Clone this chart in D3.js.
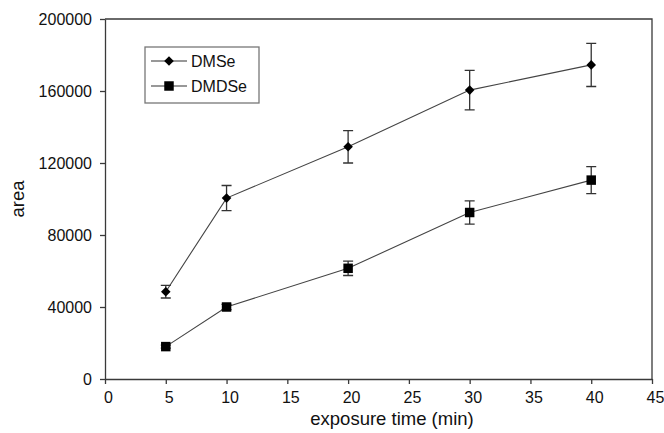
<!DOCTYPE html>
<html>
<head>
<meta charset="utf-8">
<script src="https://cdn.jsdelivr.net/npm/d3@7"></script>
<style>
  html, body { margin: 0; padding: 0; background: #fff; }
  svg { display: block; font-family: "Liberation Sans", Arial, sans-serif; }
</style>
</head>
<body>
<svg id="chart" width="664" height="433"></svg>
<script>
// Exposure times (min)
const times = [5, 10, 20, 30, 40];
// Peak areas and standard deviations for each compound
const dmseArea = [48500, 100500, 129000, 160500, 174500];
const dmseErr  = [3500, 7000, 9000, 11000, 12000];
const dmdseArea = [18000, 40000, 61500, 92500, 110500];
const dmdseErr  = [800, 1500, 4000, 6500, 7500];
// Tick values
const xTicks = [0, 5, 10, 15, 20, 25, 30, 35, 40, 45];
const yTicks = [0, 40000, 80000, 120000, 160000, 200000];

const series = [
  { name: "DMSe", area: dmseArea, err: dmseErr, marker: "diamond" },
  { name: "DMDSe", area: dmdseArea, err: dmdseErr, marker: "square" }
];

const svg = d3.select("#chart");
const plotL = 105, plotR = 652, plotT = 19, plotB = 379;

const x = d3.scaleLinear().domain([0, 45]).range([plotL, plotR]);
const y = d3.scaleLinear().domain([0, 200000]).range([plotB, plotT]);

const axisColor = "#3a3a3a";

// Frame (top and right sides)
svg.append("path")
  .attr("d", `M${plotL},${plotT}H${plotR}V${plotB}`)
  .attr("fill", "none").attr("stroke", axisColor).attr("stroke-width", 1.3);

// X axis
const gx = svg.append("g").attr("transform", `translate(0,${plotB})`)
  .call(d3.axisBottom(x).tickValues(xTicks).tickSize(5).tickPadding(8).tickSizeOuter(0));
gx.selectAll("path, line").attr("stroke", axisColor).attr("stroke-width", 1.3);
gx.selectAll("text").attr("font-size", 16).attr("fill", "#111").attr("dx", 3)
  .attr("font-family", "Liberation Sans, Arial, sans-serif");

// Y axis
const gy = svg.append("g").attr("transform", `translate(${plotL},0)`)
  .call(d3.axisLeft(y).tickValues(yTicks).tickFormat(d3.format("d")).tickSize(5).tickPadding(8).tickSizeOuter(0));
gy.selectAll("path, line").attr("stroke", axisColor).attr("stroke-width", 1.3);
gy.selectAll("text").attr("font-size", 16).attr("fill", "#111")
  .attr("font-family", "Liberation Sans, Arial, sans-serif");

// Axis titles
svg.append("text").attr("x", 392).attr("y", 425)
  .attr("text-anchor", "middle").attr("font-size", 18.5).attr("fill", "#111")
  .text("exposure time (min)");
svg.append("text")
  .attr("transform", `translate(24,${(plotT + plotB) / 2}) rotate(-90)`)
  .attr("text-anchor", "middle").attr("font-size", 18.5).attr("fill", "#111")
  .text("area");

// Markers: a rotated square (rhombus) and a filled square
const diamond = d3.symbol().type(d3.symbolSquare).size(46);
const square = d3.symbol().type(d3.symbolSquare).size(90);

function drawMarker(g, kind, cx, cy) {
  g.append("path")
    .attr("d", kind === "diamond" ? diamond() : square())
    .attr("transform", kind === "diamond"
      ? `translate(${cx},${cy}) rotate(45)`
      : `translate(${cx},${cy})`)
    .attr("fill", "#000");
}

const line = d3.line().x((d, i) => x(times[i])).y(d => y(d));

series.forEach(s => {
  const g = svg.append("g");
  g.append("path").datum(s.area)
    .attr("d", line).attr("fill", "none")
    .attr("stroke", "#444").attr("stroke-width", 1.1);

  // Error bars with caps
  s.area.forEach((v, i) => {
    const cx = x(times[i]);
    const yHi = y(v + s.err[i]), yLo = y(v - s.err[i]);
    g.append("path")
      .attr("d", `M${cx},${yHi}V${yLo}M${cx - 5},${yHi}H${cx + 5}M${cx - 5},${yLo}H${cx + 5}`)
      .attr("fill", "none").attr("stroke", "#333").attr("stroke-width", 1.3);
  });

  s.area.forEach((v, i) => drawMarker(g, s.marker, x(times[i]), y(v)));
});

// Legend
const lg = svg.append("g");
lg.append("rect").attr("x", 145).attr("y", 47).attr("width", 114).attr("height", 56)
  .attr("fill", "#fff").attr("stroke", "#777").attr("stroke-width", 1.3);
series.forEach((s, i) => {
  const ly = 61 + i * 25;
  lg.append("line").attr("x1", 151).attr("x2", 187).attr("y1", ly).attr("y2", ly)
    .attr("stroke", "#333").attr("stroke-width", 1.1);
  drawMarker(lg, s.marker, 169, ly);
  lg.append("text").attr("x", 191).attr("y", ly + 6)
    .attr("font-size", 16).attr("fill", "#111").text(s.name);
});
</script>
</body>
</html>
